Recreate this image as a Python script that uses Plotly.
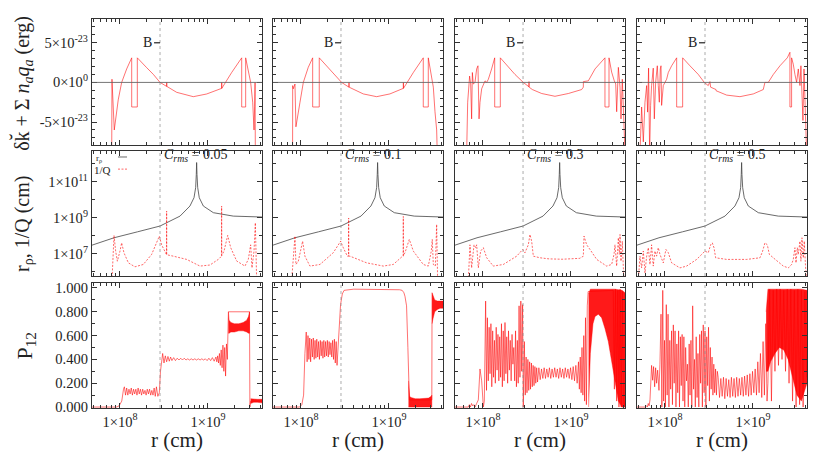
import numpy as np
import plotly.graph_objects as go
from plotly.subplots import make_subplots

# ---------------------------------------------------------------- data
R_B_LOG = 8.455                     # log10 r of the "B" marker (dotted line)
C_RMS = ["0.05", "0.1", "0.3", "0.5"]
ERG = 1e-23                         # top-row values are given in units of 1e-23 erg

# ---- top row : delta k + sum n_a q_a  (x = log10 r, y in 1e-23 erg)
top1_logr = [7.906, 7.909, 7.935, 7.98, 8.019, 8.076, 8.133, 8.133, 8.197, 8.197, 8.30, 8.38, 8.455,
             8.53, 8.531, 8.532, 8.644, 8.833, 8.985, 9.155, 9.156, 9.157, 9.269, 9.383, 9.383, 9.428,
             9.428, 9.485, 9.508, 9.523, 9.53, 9.535, 9.538]
top1_val = [-9, 0.4, -6.0, -2.2, 0.0, 1.7, 3.1, -3.1, -3.1, 3.1, 1.9, 1.0, 0.0,
            -0.5, 0.0, -0.5, -1.25, -1.8, -1.46, -0.75, 0.0, -0.75, 1.25, 3.1, -3.1, -3.1,
            3.1, 0.0, -2.5, -6.0, -3.0, 0.0, -9]

top2_logr = [7.905, 7.906, 7.913, 7.932, 7.943, 7.989, 8.027, 8.083, 8.133, 8.133, 8.208, 8.208, 8.33,
             8.462, 8.545, 8.546, 8.547, 8.708, 8.86, 9.011, 9.163, 9.164, 9.165, 9.277, 9.39, 9.39,
             9.447, 9.447, 9.485, 9.496, 9.504, 9.523, 9.542, 9.549]
top2_val = [-9, -0.4, -0.8, -0.2, -5.6, -2.5, 0.0, 1.9, 3.1, -3.1, -3.1, 3.1, 1.6,
            0.0, -0.6, 0.0, -0.6, -1.45, -1.8, -1.45, -0.75, 0.0, -0.75, 1.25, 3.1, -3.1,
            -3.1, 3.1, 0.8, 0.0, -0.6, -3.7, -6.0, -9]

top3_logr = [7.814, 7.826, 7.848, 7.860, 7.871, 7.879, 7.890, 7.909, 7.928, 7.943, 7.955, 7.966, 7.985,
             8.004, 8.023, 8.042, 8.061, 8.098, 8.133, 8.133, 8.197, 8.197, 8.288, 8.364, 8.458, 8.522,
             8.523, 8.524, 8.561, 8.667, 8.818, 8.970, 9.121, 9.140, 9.141, 9.197, 9.273, 9.386, 9.386,
             9.432, 9.432, 9.462, 9.492, 9.508, 9.519, 9.530, 9.538, 9.557, 9.568, 9.583, 9.595, 9.606,
             9.614]
top3_val = [-9, -2.5, 0.8, -0.2, -4.6, 1.25, -0.2, 0.0, 1.7, 2.1, -4.6, -2.5, -0.8,
            -0.2, 0.2, 0.0, 0.4, 1.7, 3.1, -3.1, -3.1, 3.1, 1.9, 1.0, 0.0, -0.55,
            0.1, -0.6, -0.9, -1.4, -1.75, -1.4, -0.9, -0.6, 0.1, 0.2, 1.7, 3.1, -3.1,
            -3.1, 3.1, 1.3, 0.2, -0.2, -3.7, -0.2, 1.9, -0.6, -4.6, 0.4, -3.1, -5.0,
            -9]

top4_logr = [7.716, 7.735, 7.754, 7.773, 7.792, 7.803, 7.814, 7.826, 7.837, 7.848, 7.867, 7.879, 7.894,
             7.913, 7.924, 7.936, 7.947, 7.955, 7.962, 7.981, 8.0, 8.019, 8.038, 8.076, 8.133, 8.133,
             8.201, 8.201, 8.284, 8.379, 8.447, 8.492, 8.511, 8.519, 8.580, 8.581, 8.701, 8.852, 9.004,
             9.117, 9.136, 9.174, 9.231, 9.307, 9.390, 9.420, 9.420, 9.439, 9.439, 9.458, 9.477, 9.496,
             9.515, 9.534, 9.545, 9.557, 9.568, 9.580, 9.591, 9.602, 9.610]
top4_val = [-9, -3.1, -7.5, -2.5, -0.4, -3.75, 1.8, -9, -2.9, -0.4, 1.8, -4.6, 0.0,
            2.1, -0.4, -2.5, 1.7, 2.1, -2.9, -0.4, 0.0, 0.4, 1.25, 2.1, 3.1, -3.1,
            -3.1, 3.1, 2.1, 1.0, 0.0, -0.4, 0.1, -0.6, -0.9, -1.05, -1.6, -1.8, -1.45,
            -0.9, 0.0, 0.0, 1.0, 2.1, 3.1, 3.8, -3.1, -3.1, 3.1, 2.3, 1.0, 0.0,
            1.7, -0.4, 2.1, -2.5, -4.8, 1.7, -1.7, -6.7, -9]

# ---- middle row : r_rho (same in all panels) and 1/Q   (x = log10 r, y = log10 cm)
rho_logr = [7.682, 7.932, 8.20, 8.455, 8.682, 8.795, 8.841, 8.860, 8.867, 8.871, 8.875, 8.883, 8.901,
            8.947, 9.061, 9.288, 9.614]
rho_logv = [7.48, 7.89, 8.22, 8.54, 9.09, 9.65, 10.11, 10.67, 11.4, 12.06, 11.4, 10.67, 10.11,
            9.65, 9.28, 9.09, 9.04]

invq1_logr = [7.909, 7.932, 7.951, 7.970, 8.0, 8.019, 8.045, 8.095, 8.170, 8.265, 8.360, 8.417, 8.447,
              8.473, 8.511, 8.529, 8.530, 8.531, 8.606, 8.758, 8.909, 9.023, 9.117, 9.154, 9.155, 9.156,
              9.182, 9.224, 9.258, 9.326, 9.420, 9.458, 9.485, 9.5, 9.523, 9.538, 9.553]
invq1_logv = [5.5, 8.02, 7.15, 6.59, 7.15, 7.61, 7.06, 6.5, 6.28, 6.41, 6.97, 7.61, 7.98,
              7.5, 7.06, 6.95, 9.37, 6.95, 6.87, 6.69, 6.32, 6.38, 6.69, 6.87, 9.65, 6.9,
              7.15, 8.02, 7.34, 6.6, 6.32, 6.69, 7.5, 6.22, 7.15, 8.72, 5.5]

invq2_logr = [7.894, 7.932, 7.943, 7.970, 8.019, 8.045, 8.102, 8.216, 8.367, 8.451, 8.481, 8.527, 8.541,
              8.542, 8.543, 8.557, 8.746, 8.936, 9.049, 9.155, 9.162, 9.163, 9.164, 9.182, 9.231, 9.277,
              9.390, 9.447, 9.481, 9.492, 9.504, 9.527, 9.542, 9.553]
invq2_logv = [5.5, 7.98, 6.41, 6.59, 7.7, 6.87, 6.32, 6.41, 7.06, 7.7, 7.34, 6.87, 6.87,
              8.98, 6.87, 6.87, 6.5, 6.32, 6.41, 6.87, 6.87, 9.07, 6.9, 7.06, 7.8, 7.15,
              6.41, 6.32, 7.15, 7.8, 6.41, 6.32, 8.63, 5.5]

invq3_logr = [7.833, 7.852, 7.871, 7.898, 7.917, 7.928, 7.947, 7.973, 8.004, 8.042, 8.117, 8.231, 8.383,
              8.451, 8.477, 8.515, 8.534, 8.553, 8.572, 8.648, 8.75, 8.90, 9.10, 9.140, 9.148, 9.178,
              9.216, 9.292, 9.405, 9.462, 9.489, 9.5, 9.519, 9.538, 9.549, 9.557, 9.568, 9.583, 9.595,
              9.602]
invq3_logv = [5.5, 7.5, 6.22, 7.5, 7.34, 7.5, 6.22, 7.15, 7.34, 6.78, 6.32, 6.41, 6.87,
              7.24, 7.06, 7.5, 8.07, 7.7, 6.87, 6.78, 6.72, 6.7, 6.75, 6.87, 7.98, 7.5,
              7.24, 6.69, 6.32, 6.41, 6.97, 7.5, 6.32, 7.89, 6.97, 8.07, 6.59, 7.7, 6.22,
              5.5]

invq4_logr = [7.697, 7.716, 7.735, 7.754, 7.773, 7.792, 7.811, 7.830, 7.848, 7.867, 7.886, 7.905, 7.924,
              7.943, 7.981, 8.011, 8.038, 8.076, 8.170, 8.246, 8.360, 8.455, 8.492, 8.519, 8.538, 8.557,
              8.576, 8.701, 8.928, 9.080, 9.110, 9.136, 9.163, 9.186, 9.231, 9.345, 9.402, 9.439, 9.458,
              9.477, 9.489, 9.504, 9.515, 9.534, 9.545, 9.557, 9.572, 9.583, 9.598, 9.610]
invq4_logv = [5.5, 6.87, 6.22, 7.15, 5.94, 6.87, 7.34, 6.41, 7.5, 6.32, 7.15, 6.87, 7.34,
              6.97, 6.5, 7.24, 7.06, 6.5, 6.22, 6.32, 6.69, 7.15, 7.06, 7.5, 7.61, 7.34,
              6.78, 6.69, 6.69, 6.78, 7.15, 7.61, 7.5, 6.97, 6.78, 6.32, 6.22, 6.41, 6.69,
              7.34, 6.5, 7.34, 6.97, 7.7, 6.59, 7.89, 6.78, 7.7, 6.22, 5.5]

# ---- bottom row : P12   (x = log10 r)
p12_1_logr = [7.682, 7.96, 7.99, 8.02, 8.04,
              8.050, 8.063, 8.076, 8.089, 8.102, 8.115, 8.128, 8.141, 8.154, 8.167, 8.180, 8.193,
              8.206, 8.219, 8.232, 8.245, 8.258, 8.271, 8.284, 8.297, 8.310, 8.323, 8.336, 8.349,
              8.362, 8.375, 8.388, 8.401, 8.414,
              8.43, 8.447, 8.46, 8.475, 8.485, 8.50, 8.515, 8.53, 8.545, 8.56, 8.575, 8.59, 8.61,
              8.63, 8.65, 8.67, 8.69, 8.71, 8.73, 8.75, 8.77, 8.79, 8.81, 8.83, 8.85, 8.87, 8.89,
              8.91, 8.93, 8.95, 8.97, 8.99, 9.01, 9.03, 9.05, 9.07, 9.09, 9.10, 9.11, 9.12, 9.13,
              9.14, 9.15, 9.16, 9.17, 9.18, 9.19, 9.20, 9.21, 9.22, 9.228, 9.232,
              9.472, 9.476, 9.485, 9.614]
p12_1_val = [0.0, 0.0, 0.01, 0.05, 0.15,
             0.17, 0.10, 0.16, 0.10, 0.15, 0.11, 0.16, 0.10, 0.15, 0.11, 0.15, 0.10,
             0.16, 0.11, 0.15, 0.10, 0.15, 0.11, 0.14, 0.10, 0.15, 0.11, 0.15, 0.10,
             0.14, 0.10, 0.16, 0.09, 0.17,
             0.09, 0.12, 0.30, 0.42, 0.45, 0.37, 0.43, 0.38, 0.425, 0.385, 0.42, 0.39, 0.415,
             0.39, 0.41, 0.395, 0.41, 0.395, 0.41, 0.395, 0.405, 0.395, 0.405, 0.395, 0.405, 0.395, 0.405,
             0.395, 0.405, 0.395, 0.405, 0.39, 0.41, 0.39, 0.415, 0.385, 0.42, 0.38, 0.43, 0.37, 0.45,
             0.35, 0.48, 0.33, 0.52, 0.30, 0.50, 0.26, 0.53, 0.40, 0.62, 0.80,
             0.80, 0.0, 0.05, 0.05]
band1a_logr = [9.232, 9.24, 9.26, 9.30, 9.35, 9.40, 9.44, 9.46, 9.472,
               9.472, 9.46, 9.44, 9.40, 9.35, 9.30, 9.26, 9.24, 9.232]
band1a_val = [0.80, 0.73, 0.71, 0.70, 0.70, 0.71, 0.73, 0.76, 0.80,
              0.62, 0.62, 0.63, 0.64, 0.64, 0.63, 0.63, 0.62, 0.62]
band1b_logr = [9.485, 9.52, 9.56, 9.614, 9.614, 9.56, 9.52, 9.485]
band1b_val = [0.07, 0.065, 0.065, 0.065, 0.035, 0.04, 0.04, 0.03]

p12_2_logr = [7.682, 7.985, 8.01, 8.03, 8.045,
              8.06, 8.07, 8.08, 8.09, 8.10, 8.11, 8.12, 8.13, 8.14, 8.15, 8.16, 8.17, 8.18, 8.19,
              8.20, 8.21, 8.22, 8.23, 8.24, 8.25, 8.26, 8.27, 8.28, 8.29, 8.30, 8.31, 8.32, 8.33,
              8.34, 8.35, 8.36, 8.37, 8.38, 8.39, 8.40,
              8.41, 8.43, 8.45, 8.47, 8.49, 8.60, 8.80, 9.00, 9.12, 9.15, 9.17, 9.182, 9.20, 9.215,
              9.225, 9.232,
              9.487, 9.49]
p12_2_val = [0.0, 0.0, 0.02, 0.10, 0.45,
             0.63, 0.38, 0.60, 0.40, 0.58, 0.38, 0.57, 0.42, 0.58, 0.40, 0.56, 0.41, 0.57, 0.42,
             0.55, 0.40, 0.56, 0.43, 0.55, 0.41, 0.56, 0.42, 0.55, 0.43, 0.56, 0.42, 0.55, 0.44,
             0.54, 0.42, 0.56, 0.40, 0.57, 0.37, 0.55,
             0.35, 0.60, 0.86, 0.95, 0.98, 0.99, 0.99, 0.99, 0.985, 0.98, 0.96, 0.93, 0.85, 0.50,
             0.20, 0.06,
             0.06, 0.96]
band2a_logr = [9.222, 9.228, 9.235, 9.25, 9.30, 9.35, 9.40, 9.45, 9.48, 9.487,
               9.487, 9.48, 9.45, 9.40, 9.35, 9.30, 9.25, 9.232, 9.222]
band2a_val = [0.22, 0.12, 0.09, 0.08, 0.07, 0.07, 0.07, 0.075, 0.09, 0.10,
              0.0, 0.0, 0.0, 0.0, 0.0, 0.0, 0.0, 0.0, 0.0]
band2b_logr = [9.49, 9.50, 9.52, 9.55, 9.58, 9.614, 9.614, 9.58, 9.55, 9.52, 9.50, 9.49]
band2b_val = [0.96, 0.94, 0.90, 0.89, 0.89, 0.89, 0.83, 0.83, 0.82, 0.80, 0.74, 0.70]

p12_3_logr = [7.682, 7.833, 7.845, 7.857, 7.87, 7.882, 7.895, 7.91, 7.928, 7.947, 7.966, 7.975, 7.985,
              8.004, 8.015,
              8.03, 8.04, 8.05, 8.06, 8.07, 8.08, 8.09, 8.10, 8.11, 8.12, 8.13, 8.14, 8.15, 8.16,
              8.17, 8.18, 8.19, 8.20, 8.21, 8.22, 8.23, 8.24, 8.25, 8.26, 8.27, 8.28, 8.29, 8.30,
              8.31, 8.32, 8.33, 8.34, 8.35, 8.36, 8.37, 8.38, 8.39, 8.40, 8.41, 8.42, 8.43, 8.44, 8.45,
              8.458, 8.462,
              8.47, 8.48, 8.49, 8.50, 8.51, 8.52, 8.53, 8.54, 8.55, 8.56, 8.57, 8.58, 8.59, 8.60,
              8.61, 8.62,
              8.635, 8.650, 8.665, 8.680, 8.695, 8.710, 8.725, 8.740, 8.755, 8.770, 8.785, 8.800,
              8.815, 8.830, 8.845, 8.860, 8.875, 8.890, 8.905, 8.920, 8.935, 8.950, 8.965, 8.980,
              8.995, 9.010, 9.025, 9.040, 9.055, 9.070, 9.085,
              9.095, 9.105, 9.115, 9.125, 9.135, 9.145, 9.155, 9.165, 9.175, 9.185, 9.195,
              9.480, 9.493, 9.506, 9.519, 9.532, 9.545, 9.558, 9.571, 9.584, 9.597, 9.610]
p12_3_val = [0.0, 0.0, 0.02, 0.0, 0.03, 0.01, 0.02, 0.0, 0.03, 0.06, 0.32, 0.25, 0.22,
             0.0, 0.05,
             0.89, 0.14, 0.75, 0.22, 0.67, 0.28, 0.70, 0.17, 0.64, 0.25, 0.56, 0.20, 0.67, 0.31,
             0.61, 0.22, 0.59, 0.25, 0.70, 0.17, 0.64, 0.22, 0.71, 0.28, 0.59, 0.20, 0.64, 0.31,
             0.56, 0.22, 0.61, 0.36, 0.50, 0.22, 0.64, 0.17, 0.56, 0.20, 0.85, 0.25, 0.89, 0.30, 0.86,
             0.0, 0.2,
             0.55, 0.10, 0.42, 0.12, 0.40, 0.14, 0.38, 0.15, 0.37, 0.17, 0.35, 0.18, 0.34, 0.20,
             0.33, 0.21,
             0.33, 0.23, 0.32, 0.24, 0.33, 0.24, 0.32, 0.25, 0.33, 0.24, 0.32, 0.25,
             0.33, 0.25, 0.32, 0.24, 0.33, 0.25, 0.32, 0.24, 0.33, 0.25, 0.32, 0.24,
             0.33, 0.23, 0.34, 0.22, 0.35, 0.20, 0.38,
             0.15, 0.42, 0.12, 0.50, 0.10, 0.60, 0.05, 0.75, 0.02, 0.85, 0.97,
             0.98, 0.15, 0.99, 0.05, 0.98, 0.0, 0.99, 0.0, 0.97, 0.05, 0.0]
band3_logr = [9.20, 9.22, 9.30, 9.40, 9.50, 9.58, 9.614, 9.614, 9.576, 9.538, 9.50, 9.462, 9.424,
              9.386, 9.348, 9.311, 9.273, 9.25, 9.22, 9.20]
band3_val = [0.95, 0.99, 0.99, 0.99, 0.99, 0.98, 0.96, 0.0, 0.0, 0.05, 0.22, 0.40, 0.55,
             0.66, 0.75, 0.78, 0.76, 0.70, 0.45, 0.0]

p12_4_logr = [7.682, 7.773, 7.79, 7.80, 7.81, 7.82, 7.83, 7.848, 7.86, 7.871, 7.883, 7.894, 7.905,
              7.917, 7.932, 7.943,
              7.955, 7.965, 7.975, 7.985, 7.995, 8.005, 8.015, 8.025, 8.035, 8.045, 8.055, 8.065,
              8.075, 8.085, 8.095, 8.105, 8.115, 8.125, 8.135, 8.145, 8.155, 8.165, 8.175, 8.185,
              8.195, 8.205, 8.215, 8.225, 8.235, 8.245, 8.255, 8.265, 8.275, 8.285, 8.295, 8.305,
              8.315, 8.325, 8.335, 8.345, 8.355, 8.365, 8.375, 8.385, 8.395, 8.405, 8.415, 8.425,
              8.435, 8.445, 8.455, 8.465, 8.475, 8.485, 8.495, 8.505, 8.515, 8.525, 8.535, 8.545,
              8.555, 8.565, 8.575, 8.585, 8.595,
              8.605, 8.620, 8.635, 8.650, 8.665, 8.680, 8.695, 8.710, 8.725, 8.740, 8.755, 8.770,
              8.785, 8.800, 8.815, 8.830, 8.845, 8.860, 8.875, 8.890, 8.905, 8.920, 8.935, 8.950,
              8.965, 8.980, 8.995,
              9.010, 9.025, 9.040, 9.055, 9.070, 9.085, 9.100, 9.115, 9.130, 9.145, 9.160,
              9.17, 9.19, 9.21, 9.23, 9.25, 9.27, 9.29, 9.31, 9.33, 9.35, 9.37, 9.39, 9.41, 9.43,
              9.45, 9.47, 9.49, 9.51, 9.53, 9.55, 9.57, 9.59, 9.61]
p12_4_val = [0.0, 0.0, 0.01, 0.0, 0.03, 0.01, 0.06, 0.35, 0.225, 0.34, 0.17, 0.33, 0.20,
             0.31, 0.14, 0.36,
             0.78, 0.0, 0.98, 0.05, 0.56, 0.0, 0.86, 0.10, 0.78, 0.0, 0.56, 0.15,
             0.64, 0.02, 0.69, 0.20, 0.64, 0.0, 0.53, 0.12, 0.64, 0.0, 0.59, 0.18,
             0.61, 0.05, 0.59, 0.0, 0.50, 0.22, 0.36, 0.0, 0.53, 0.10, 0.56, 0.0,
             0.85, 0.15, 0.40, 0.0, 0.59, 0.08, 0.45, 0.0, 0.61, 0.20, 0.64, 0.0,
             0.69, 0.12, 0.64, 0.0, 0.59, 0.18, 0.67, 0.05, 0.50, 0.15, 0.42, 0.10,
             0.36, 0.12, 0.32, 0.10, 0.30,
             0.25, 0.08, 0.24, 0.09, 0.25, 0.07, 0.24, 0.09, 0.23, 0.08, 0.25, 0.09,
             0.24, 0.08, 0.25, 0.09, 0.24, 0.10, 0.25, 0.09, 0.26, 0.10, 0.27, 0.09,
             0.28, 0.10, 0.30,
             0.12, 0.32, 0.10, 0.38, 0.12, 0.45, 0.08, 0.55, 0.10, 0.70, 0.05,
             0.20, 0.99, 0.05, 0.98, 0.30, 0.99, 0.35, 0.99, 0.40, 0.98, 0.30, 0.99, 0.20, 0.99,
             0.05, 0.98, 0.0, 0.99, 0.02, 0.98, 0.0, 0.97, 0.25]
band4_logr = [9.15, 9.17, 9.25, 9.35, 9.45, 9.55, 9.614, 9.614, 9.55, 9.50, 9.45, 9.40, 9.35,
              9.30, 9.25, 9.20, 9.17, 9.15]
band4_val = [0.80, 0.99, 0.99, 0.99, 0.99, 0.99, 0.98, 0.20, 0.05, 0.10, 0.25, 0.40, 0.48,
             0.50, 0.45, 0.38, 0.30, 0.30]

# tick labels
X_TICKS = [1e8, 1e9]
X_TICKTEXT = ["1×10<sup>8</sup>", "1×10<sup>9</sup>"]
TOP_TICKS = [-5e-23, 0.0, 5e-23]
TOP_TICKTEXT = ["-5×10<sup>-23</sup>", "0×10<sup>0</sup>", "5×10<sup>-23</sup>"]
MID_TICKS = [1e7, 1e9, 1e11]
MID_TICKTEXT = ["1×10<sup>7</sup>", "1×10<sup>9</sup>", "1×10<sup>11</sup>"]
BOT_TICKS = [0.0, 0.2, 0.4, 0.6, 0.8, 1.0]

# ---------------------------------------------------------------- grouping
TOP = [(top1_logr, top1_val), (top2_logr, top2_val), (top3_logr, top3_val), (top4_logr, top4_val)]
MID = [(invq1_logr, invq1_logv), (invq2_logr, invq2_logv), (invq3_logr, invq3_logv), (invq4_logr, invq4_logv)]
BOT = [(p12_1_logr, p12_1_val), (p12_2_logr, p12_2_val), (p12_3_logr, p12_3_val), (p12_4_logr, p12_4_val)]
BANDS = [[(band1a_logr, band1a_val), (band1b_logr, band1b_val)],
         [(band2a_logr, band2a_val), (band2b_logr, band2b_val)],
         [(band3_logr, band3_val)],
         [(band4_logr, band4_val)]]

for a, b in TOP + MID + BOT + [bb for g in BANDS for bb in g] + [(rho_logr, rho_logv)]:
    assert len(a) == len(b), (len(a), len(b))

# ---------------------------------------------------------------- figure
FONT = "Liberation Serif"
RED = "rgba(255,0,0,0.8)"
RED_FILL = "rgba(255,0,0,0.9)"
INK = "#333333"

fig = make_subplots(rows=3, cols=4)

COL_DOM = [[0.0, 0.2378], [0.2531, 0.4909], [0.5077, 0.7455], [0.7622, 1.0]]
ROW_DOM = [[0.6760, 1.0], [0.3393, 0.6607], [0.0, 0.3214]]
X_RANGE = [7.682, 9.614]


def L(v):
    return 10 ** np.asarray(v, dtype=float)


for ci in range(4):
    c = ci + 1
    lx, lv = TOP[ci]
    fig.add_trace(go.Scatter(x=L(lx), y=np.asarray(lv) * ERG, mode="lines",
                             line=dict(color="rgba(255,0,0,0.7)", width=0.8), hoverinfo="skip",
                             showlegend=False), row=1, col=c)
    fig.add_trace(go.Scatter(x=L(rho_logr), y=L(rho_logv), mode="lines",
                             line=dict(color="#444444", width=0.8), hoverinfo="skip", showlegend=False),
                  row=2, col=c)
    mx, mv = MID[ci]
    fig.add_trace(go.Scatter(x=L(mx), y=L(mv), mode="lines",
                             line=dict(color="rgba(255,0,0,0.75)", width=0.8, dash="2px,1.5px"),
                             hoverinfo="skip", showlegend=False), row=2, col=c)
    for bx, bv in BANDS[ci]:
        fig.add_trace(go.Scatter(x=L(bx), y=bv, mode="lines", fill="toself", fillcolor=RED_FILL,
                                 line=dict(color=RED, width=0.5), hoverinfo="skip", showlegend=False),
                      row=3, col=c)
    px_, pv = BOT[ci]
    fig.add_trace(go.Scatter(x=L(px_), y=pv, mode="lines",
                             line=dict(color=RED, width=0.7), hoverinfo="skip", showlegend=False),
                  row=3, col=c)

x_minor = [k * 10 ** e for e in (7, 8, 9) for k in range(2, 10) if 4.8e7 < k * 10 ** e < 4.1e9]
axis_common = dict(showline=True, mirror="allticks", linecolor=INK, linewidth=1.3, ticks="inside",
                   ticklen=5, tickcolor=INK, tickwidth=1, showgrid=False, zeroline=False,
                   tickfont=dict(family=FONT, size=14.5, color="#222"))

for r in range(1, 4):
    for c in range(1, 5):
        fig.update_xaxes(domain=COL_DOM[c - 1], type="log", range=X_RANGE, tickmode="array",
                         tickvals=X_TICKS, ticktext=X_TICKTEXT, showticklabels=(r == 3),
                         minor=dict(ticks="inside", ticklen=3, tickcolor=INK, tickvals=x_minor, showgrid=False),
                         row=r, col=c, **axis_common)
        if r == 1:
            fig.update_yaxes(domain=ROW_DOM[0], range=[-7.9e-23, 8.0e-23], tickmode="array",
                             tickvals=TOP_TICKS, ticktext=TOP_TICKTEXT, showticklabels=(c == 1),
                             minor=dict(ticks="inside", ticklen=3, tickcolor=INK,
                                        tickvals=[k * 1e-23 for k in range(-7, 8)], showgrid=False),
                             row=r, col=c, **axis_common)
        elif r == 2:
            fig.update_yaxes(domain=ROW_DOM[1], type="log", range=[5.77, 12.70], tickmode="array",
                             tickvals=MID_TICKS, ticktext=MID_TICKTEXT, showticklabels=(c == 1),
                             minor=dict(ticks="inside", ticklen=3, tickcolor=INK,
                                        tickvals=[1e6, 1e8, 1e10, 1e12], showgrid=False),
                             row=r, col=c, **axis_common)
        else:
            fig.update_yaxes(domain=ROW_DOM[2], range=[-0.008, 1.042], tickmode="array",
                             tickvals=BOT_TICKS, ticktext=[f"{v:.3f}" for v in BOT_TICKS],
                             showticklabels=(c == 1),
                             minor=dict(ticks="inside", ticklen=3, tickcolor=INK,
                                        tickvals=[0.1, 0.3, 0.5, 0.7, 0.9], showgrid=False),
                             row=r, col=c, **axis_common)

shapes = []
annots = []


def ax(i):
    return "" if i == 1 else str(i)


R_B = 10 ** R_B_LOG
for i in range(1, 13):
    shapes.append(dict(type="line", xref="x" + ax(i), x0=R_B, x1=R_B,
                       yref="y" + ax(i) + " domain", y0=0, y1=1,
                       line=dict(color="#888", width=0.7, dash="dot"), layer="above"))
for i in range(1, 5):
    shapes.append(dict(type="line", xref="x" + ax(i) + " domain", x0=0, x1=1,
                       yref="y" + ax(i), y0=0, y1=0, line=dict(color="#666", width=0.9)))
    shapes.append(dict(type="line", xref="x" + ax(i) + " domain", x0=0.365, x1=0.4,
                       yref="y" + ax(i), y0=5e-23, y1=5e-23, line=dict(color="#222", width=1.2)))
    annots.append(dict(text="B", xref="x" + ax(i) + " domain", x=0.365, xanchor="right",
                       yref="y" + ax(i), y=5e-23, yanchor="middle", showarrow=False,
                       font=dict(family=FONT, size=14, color="#222")))
for k, i in enumerate(range(5, 9)):
    annots.append(dict(text="<i>C<sub>rms</sub></i> = " + C_RMS[k], xref="x" + ax(i) + " domain",
                       x=0.412, xanchor="left", yref="y" + ax(i) + " domain", y=0.96, yanchor="middle",
                       showarrow=False, font=dict(family=FONT, size=14, color="#222")))
for i in range(9, 13):
    annots.append(dict(text="r (cm)", xref="x" + ax(i) + " domain", x=0.5, xanchor="center",
                       yref="paper", y=-0.082, yanchor="middle", showarrow=False,
                       font=dict(family=FONT, size=21, color="#222")))

# legend of the middle-left panel
annots.append(dict(text="r<sub>ρ</sub>", xref="x5 domain", x=0.07, xanchor="right", yref="y5 domain",
                   y=1.0, yanchor="top", showarrow=False, font=dict(family=FONT, size=9, color="#222")))
annots.append(dict(text="1/Q", xref="x5 domain", x=0.125, xanchor="right", yref="y5 domain",
                   y=0.845, yanchor="middle", showarrow=False, font=dict(family=FONT, size=11, color="#222")))
shapes.append(dict(type="line", xref="x5 domain", x0=0.153, x1=0.206, yref="y5 domain", y0=0.952, y1=0.952,
                   line=dict(color="#444", width=0.8)))
shapes.append(dict(type="line", xref="x5 domain", x0=0.153, x1=0.206, yref="y5 domain", y0=0.855, y1=0.855,
                   line=dict(color="rgba(255,0,0,0.75)", width=0.8, dash="2px,1.5px")))

# y-axis titles
annots.append(dict(text="δk\u0306 + Σ <i>n<sub>a</sub>q<sub>a</sub></i> (erg)", xref="paper", x=-0.097,
                   yref="paper", y=0.835, textangle=-90, showarrow=False, xanchor="center", yanchor="middle",
                   font=dict(family=FONT, size=20, color="#222")))
annots.append(dict(text="r<sub>ρ</sub>, 1/Q (cm)", xref="paper", x=-0.096, yref="paper", y=0.474,
                   textangle=-90, showarrow=False, xanchor="center", yanchor="middle",
                   font=dict(family=FONT, size=20, color="#222")))
annots.append(dict(text="P<sub>12</sub>", xref="paper", x=-0.092, yref="paper", y=0.161,
                   textangle=-90, showarrow=False, xanchor="center", yanchor="middle",
                   font=dict(family=FONT, size=22, color="#222")))

# the page body adds an 8 px offset, so the figure is 8 px smaller and margins shifted
fig.update_layout(width=822, height=450, margin=dict(l=84, r=23, t=8, b=50),
                  paper_bgcolor="white", plot_bgcolor="white", showlegend=False,
                  shapes=shapes, annotations=annots, font=dict(family=FONT, color="#222"))

fig.write_html("out.html")
